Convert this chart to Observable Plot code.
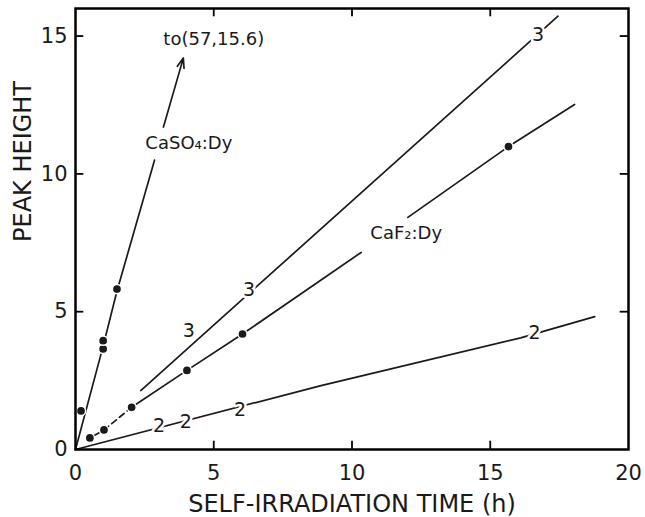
<!DOCTYPE html>
<html><head><meta charset="utf-8">
<script src="https://cdn.jsdelivr.net/npm/d3@7"></script>
<script src="https://cdn.jsdelivr.net/npm/@observablehq/plot@0.6"></script>
<style>
body{margin:0;background:#fff;}
g[aria-label="x-title"] text{letter-spacing:2.4px}
g[aria-label="y-title"] text{letter-spacing:3.5px}
g[aria-label="annotations"] text{letter-spacing:1.2px}
</style></head><body><div id="chart"></div>
<script>
// axes
const xTicks = [0, 5, 10, 15, 20];
const yTicks = [0, 5, 10, 15];
const innerTicksX = [5, 10, 15];
const innerTicksY = [5, 10, 15];
const xTitle = "SELF-IRRADIATION TIME (h)";
const yTitle = "PEAK HEIGHT";

// CaSO4:Dy
const caso4PointX = [0.2, 1.0, 1.0, 1.5];
const caso4PointY = [1.4, 3.65, 3.95, 5.82];
const caso4LineX = [0, 1.0, 1.5, 2.86];
const caso4LineY = [0, 3.75, 5.75, 10.5];
const caso4ArrowX = [3.18, 3.9];
const caso4ArrowY = [11.7, 14.2];

// CaF2:Dy
const caf2PointX = [0.52, 1.03, 2.03, 4.03, 6.04, 15.66];
const caf2PointY = [0.42, 0.71, 1.53, 2.87, 4.19, 10.99];
const caf2LineX = [0.52, 1.03, NaN, 2.03, 4.03, 6.04, 10.33, NaN, 12.02, 15.66, 18.05];
const caf2LineY = [0.42, 0.71, NaN, 1.53, 2.87, 4.19, 7.15, NaN, 8.42, 10.99, 12.52];
const caf2DashX = [1.03, 2.03];
const caf2DashY = [0.71, 1.53];

// line "3"
const line3X = [2.36, 17.45];
const line3Y = [2.14, 15.72];
// line "2"
const line2X = [0, 8.88, 16.1, 18.78];
const line2Y = [0, 2.32, 4.05, 4.82];

// numeric labels on lines
const numText = ["3", "3", "3", "2", "2", "2", "2"];
const numX = [4.1, 6.28, 16.73, 3.02, 3.99, 5.95, 16.6];
const numY = [4.3, 5.8, 15.06, 0.85, 0.99, 1.45, 4.22];

// annotations
const annText = ["to(57,15.6)", "CaSO\u2084:Dy", "CaF\u2082:Dy"];
const annX = [5.0, 4.1, 11.96];
const annY = [14.9, 11.1, 7.83];

const pts = (xs, ys) => xs.map((x, i) => ({x, y: ys[i]}));
const ink = "#1a1a1a";

const chart = Plot.plot({
  width: 645, height: 517,
  marginLeft: 75, marginRight: 17, marginTop: 8, marginBottom: 68,
  style: {fontFamily: "DejaVu Sans", color: ink, background: "#fff"},
  x: {domain: [0, 20]},
  y: {domain: [0, 16]},
  marks: [
    Plot.axisX({ticks: xTicks, tickSize: 0, tickPadding: 16, fontSize: 21, label: null, tickFormat: d => String(d)}),
    Plot.axisY({ticks: yTicks, tickSize: 0, tickPadding: 8, fontSize: 21, label: null, tickFormat: d => String(d)}),
    Plot.line(pts(caso4LineX, caso4LineY), {x: "x", y: "y", stroke: ink, strokeWidth: 1.7}),
    Plot.arrow([0], {x1: () => caso4ArrowX[0], y1: () => caso4ArrowY[0], x2: () => caso4ArrowX[1], y2: () => caso4ArrowY[1], stroke: ink, strokeWidth: 1.7, headLength: 9, headAngle: 40}),
    Plot.line(pts(caf2LineX, caf2LineY), {x: "x", y: "y", stroke: ink, strokeWidth: 1.7}),
    Plot.line(pts(caf2DashX, caf2DashY), {x: "x", y: "y", stroke: ink, strokeWidth: 1.7, strokeDasharray: "6,4"}),
    Plot.line(pts(line3X, line3Y), {x: "x", y: "y", stroke: ink, strokeWidth: 1.7}),
    Plot.line(pts(line2X, line2Y), {x: "x", y: "y", stroke: ink, strokeWidth: 1.7}),
    Plot.dot(pts(caso4PointX, caso4PointY), {x: "x", y: "y", r: 4.6, fill: ink, stroke: "white", strokeWidth: 1.5}),
    Plot.dot(pts(caf2PointX, caf2PointY), {x: "x", y: "y", r: 4.6, fill: ink, stroke: "white", strokeWidth: 1.5}),
    Plot.text(numText.map((t, i) => ({t, x: numX[i], y: numY[i]})), {x: "x", y: "y", text: "t", fontSize: 19, fill: ink, stroke: "white", strokeWidth: 5}),
    Plot.text(annText.map((t, i) => ({t, x: annX[i], y: annY[i]})), {x: "x", y: "y", text: "t", fontSize: 18, fill: ink, stroke: "white", strokeWidth: 3, ariaLabel: "annotations"}),
    Plot.frame({stroke: "#000", strokeWidth: 2.5}),
    Plot.ruleX(innerTicksX, {x: d => d, y1: 0, y2: 0.3, stroke: "#000", strokeWidth: 1.8}),
    Plot.ruleX(innerTicksX, {x: d => d, y1: 15.7, y2: 16, stroke: "#000", strokeWidth: 1.8}),
    Plot.ruleY(innerTicksY, {y: d => d, x1: 0, x2: 0.3, stroke: "#000", strokeWidth: 1.8}),
    Plot.ruleY(innerTicksY, {y: d => d, x1: 19.7, x2: 20, stroke: "#000", strokeWidth: 1.8}),
    Plot.text([xTitle], {frameAnchor: "bottom", dy: 55, text: d => d, fontSize: 24, fill: ink, lineAnchor: "middle", ariaLabel: "x-title"}),
    Plot.text([yTitle], {frameAnchor: "left", dx: -52, dy: 13, rotate: -90, text: d => d, fontSize: 24, fill: ink, ariaLabel: "y-title"})
  ]
});
document.getElementById("chart").appendChild(chart);
</script></body></html>
